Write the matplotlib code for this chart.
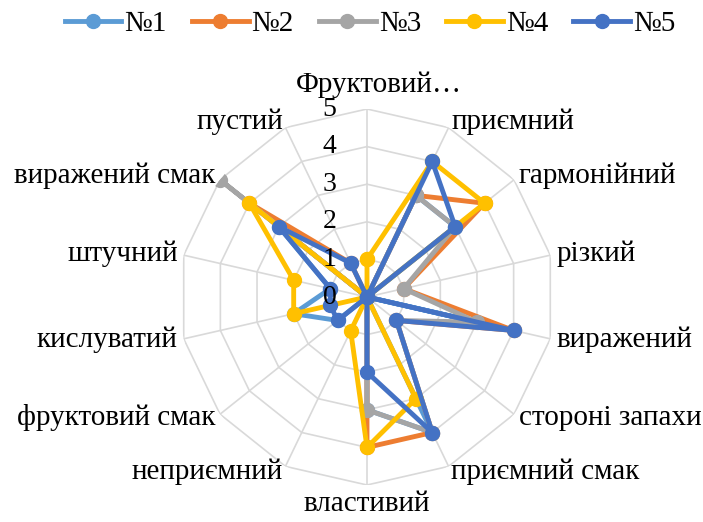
import numpy as np
import matplotlib
matplotlib.use("Agg")
import matplotlib.pyplot as plt
from matplotlib.lines import Line2D

# Sensory profile categories (clockwise from the top)
categories = ["Фруктовий…", "приємний", "гармонійний", "різкий", "виражений",
              "стороні запахи", "приємний смак", "властивий", "неприємний",
              "фруктовий смак", "кислуватий", "штучний", "виражений смак", "пустий"]

series_names = ["№1", "№2", "№3", "№4", "№5"]
s1 = [0, 3, 3, 0, 4, 0, 4, 3, 0, 1, 2, 1, 3, 0]
s2 = [0, 3, 4, 1, 4, 1, 4, 4, 0, 0, 0, 0, 4, 1]
s3 = [0, 3, 3, 1, 3, 1, 4, 3, 0, 0, 0, 0, 5, 0]
s4 = [1, 4, 4, 0, 0, 0, 3, 4, 1, 0, 2, 2, 4, 0]
s5 = [0, 4, 3, 0, 4, 1, 4, 2, 0, 1, 1, 1, 3, 1]
series_values = [s1, s2, s3, s4, s5]
colors = ["#5B9BD5", "#ED7D31", "#A5A5A5", "#FFC000", "#4472C4"]
ticks = [0, 1, 2, 3, 4, 5]

plt.rcParams["font.family"] = ["Liberation Serif", "DejaVu Serif"]

W, H = 703, 522
fig = plt.figure(figsize=(W / 100, H / 100), dpi=100)
cx, cy, R = 367, 297, 188
ax = fig.add_axes([(cx - R) / W, (H - cy - R) / H, 2 * R / W, 2 * R / H],
                  projection="polar")
ax.set_theta_zero_location("N")
ax.set_theta_direction(-1)
ax.set_ylim(0, 5)
ax.grid(False)
ax.spines["polar"].set_visible(False)
ax.set_xticks([])
ax.set_yticks([])
ax.patch.set_alpha(0)

n = len(categories)
angles = np.arange(n) * 2 * np.pi / n
closed = np.append(angles, angles[0])

# Polygonal grid rings and spokes
grid_c = "#D9D9D9"
for t in ticks[1:]:
    ax.plot(closed, [t] * (n + 1), color=grid_c, lw=1.2, zorder=1)
for a in angles:
    ax.plot([a, a], [0, 5], color=grid_c, lw=1.2, zorder=1)

# Data series
for name, vals, c in zip(series_names, series_values, colors):
    v = np.append(vals, vals[0])
    ax.plot(closed, v, color=c, lw=3.5, marker="o", ms=10,
            solid_joinstyle="round", label=name, zorder=3)

# Radial tick labels along the top spoke
for t in ticks:
    ax.annotate(str(t), xy=(0, t), xytext=(-22, 0), textcoords="offset points",
                ha="right", va="center", fontsize=20, zorder=5,
                annotation_clip=False)

# Category labels
fs = 21
rl = 5.16
for a, lab in zip(angles, categories):
    deg = np.degrees(a) % 360
    if deg < 1 or deg > 359:
        ax.annotate(lab, xy=(a, 5.3), xytext=(8.5, 0), textcoords="offset points",
                    ha="center", va="bottom", fontsize=fs, annotation_clip=False)
    elif abs(deg - 180) < 1:
        ax.text(a, rl, lab, ha="center", va="top", fontsize=fs)
    elif deg < 180:
        ax.text(a, rl, lab, ha="left", va="center", fontsize=fs)
    else:
        ax.text(a, rl, lab, ha="right", va="center", fontsize=fs)

handles = [Line2D([0], [0], color=c, lw=3.5, marker="o", ms=10) for c in colors]
fig.legend(handles, series_names, loc="center", bbox_to_anchor=(370 / W, 1 - 24 / H),
           ncol=5, frameon=False, fontsize=21, handlelength=1.95,
           handletextpad=0.1, columnspacing=0.86)

fig.savefig("out.png", dpi=100)
